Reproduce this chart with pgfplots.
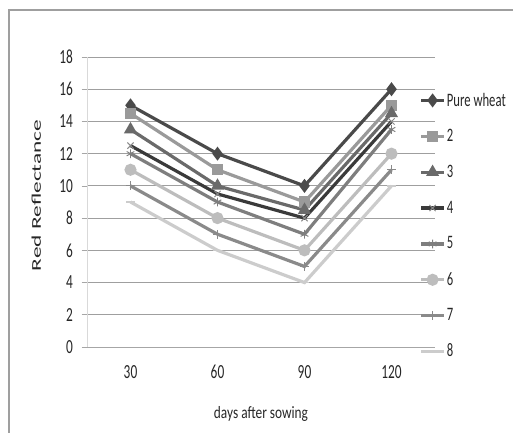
\documentclass[border=0pt]{standalone}
\usepackage{fontspec}
\setmainfont{Carlito}
\usepackage{pgfplots}
\pgfplotsset{compat=1.18}
\usepackage{graphicx}

\definecolor{cA}{HTML}{4A4A4A}
\definecolor{cB}{HTML}{9A9A9A}
\definecolor{cC}{HTML}{6A6A6A}
\definecolor{cD}{HTML}{3A3A3A}
\definecolor{cE}{HTML}{7E7E7E}
\definecolor{cF}{HTML}{BDBDBD}
\definecolor{cG}{HTML}{8A8A8A}
\definecolor{cH}{HTML}{CCCCCC}
\newcommand{\st}[1]{\scalebox{1}[1.5]{#1}}

\begin{document}
\begin{tikzpicture}
\path[use as bounding box] (0,0) rectangle (384.75pt,324pt);
\draw[gray!75, line width=0.9pt] (6.75pt,-2pt) -- (6.75pt,316.5pt) -- (390pt,316.5pt);
\begin{axis}[
    at={(65.25pt,63.75pt)}, anchor=south west,
    scale only axis,
    width=261pt, height=217.5pt,
    xmin=15, xmax=135,
    ymin=0, ymax=18,
    xtick={30,60,90,120},
    xtick style={draw=none},
    extra x ticks={15,45,75,105,135},
    extra x tick labels={},
    extra x tick style={major tick length=4pt, tick align=outside, grid=none,
        tick style={draw=gray!70, line width=0.5pt}},
    ytick={0,2,...,18},
    ytick style={draw=gray!70, line width=0.5pt},
    major tick length=4pt,
    tick align=outside,
    ymajorgrids,
    grid style={draw=gray!75, line width=0.6pt},
    axis x line*=bottom, axis y line*=left,
    x axis line style={draw=gray!70, line width=0.6pt, -},
    y axis line style={draw=gray!30, line width=0.6pt, -},
    /pgf/number format/assume math mode=true,
    ticklabel style={font=\fontsize{10}{11}\selectfont, text=black!85},
    xticklabel={\st{\pgfmathprintnumber{\tick}}},
    yticklabel={\st{\pgfmathprintnumber{\tick}}},
    xticklabel style={yshift=-6pt},
    yticklabel style={xshift=-3pt},
    xlabel={\scalebox{1}[1.3]{days after sowing}},
    ylabel={\scalebox{1.75}[1]{Red Reflectance}},
    label style={font=\fontsize{10}{11}\selectfont, text=black!85},
    xlabel style={yshift=-6pt},
    ylabel style={yshift=7pt, xshift=5pt},
    legend style={at={(axis description cs:0.955,0.913)}, anchor=north west,
        draw=none, fill=none, row sep=0pt, inner sep=0pt,
        font=\fontsize{9.5}{10}\selectfont,
        nodes={minimum height=26.9pt, inner sep=1pt, text=black!85}},
    legend cell align=left,
    every axis plot/.append style={line width=2.4pt, mark size=3.3pt},
]
\addplot[cA, mark=diamond*] coordinates {(30,15) (60,12) (90,10) (120,16)};
\addlegendentry{\st{Pure wheat}}
\addplot[cB, mark=square*, mark size=3pt] coordinates {(30,14.5) (60,11) (90,9) (120,15)};
\addlegendentry{\st{2}}
\addplot[cC, mark=triangle*] coordinates {(30,13.5) (60,10) (90,8.5) (120,14.5)};
\addlegendentry{\st{3}}
\addplot[cD, mark=x, mark options={line width=0.7pt, cD!60}] coordinates {(30,12.5) (60,9.5) (90,8) (120,14)};
\addlegendentry{\st{4}}
\addplot[cE, mark=asterisk, mark options={line width=0.7pt}] coordinates {(30,12) (60,9) (90,7) (120,13.5)};
\addlegendentry{\st{5}}
\addplot[cF, mark=*] coordinates {(30,11) (60,8) (90,6) (120,12)};
\addlegendentry{\st{6}}
\addplot[cG, mark=+, mark options={line width=0.7pt}] coordinates {(30,10) (60,7) (90,5) (120,11)};
\addlegendentry{\st{7}}
\addplot[cH, mark=-, mark options={line width=1.2pt}] coordinates {(30,9) (60,6) (90,4) (120,10)};
\addlegendentry{\st{8}}
\end{axis}
\end{tikzpicture}
\end{document}
